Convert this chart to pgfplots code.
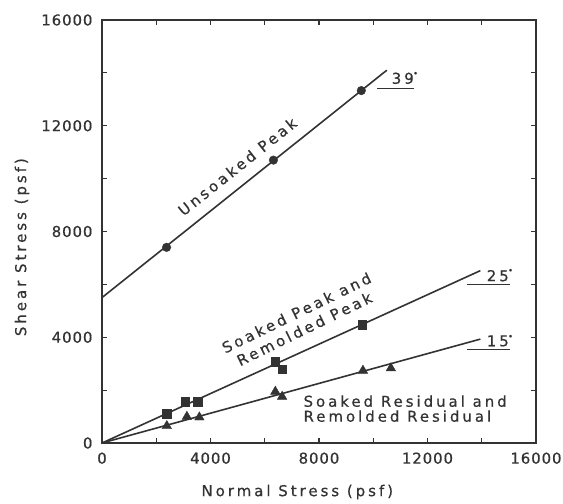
\documentclass[border=0pt]{standalone}
\usepackage{pgfplots}
\pgfplotsset{compat=1.18}
\usepackage{fontspec}
\setmainfont[LetterSpace=20, FakeBold=0.6]{DejaVu Sans}
\newfontfamily\tickfont[LetterSpace=6, FakeBold=0.6]{DejaVu Sans}
\newcommand\dg{\raisebox{0.55em}{\scalebox{0.5}{$\bullet$}}}
\definecolor{ink}{gray}{0.2}
\begin{document}
\begin{tikzpicture}
\useasboundingbox (-102bp,-61bp) rectangle (461bp,443bp);
\begin{axis}[
  at={(0,0)}, anchor=south west,
  scale only axis, width=434bp, height=423bp,
  xmin=0, xmax=16000, ymin=0, ymax=16000,
  scaled ticks=false,
  xtick={0,2000,...,16000},
  xticklabels={0,,4000,,8000,,12000,,16000},
  ytick={0,2000,...,16000},
  yticklabels={0,,4000,,8000,,12000,,16000},
  tick align=inside,
  major tick length=5bp,
  every tick/.style={line width=1.2bp, color=ink},
  axis line style={line width=1.8bp, color=ink},
  ticklabel style={font=\tickfont\fontsize{15}{15}\selectfont, text=ink},
  xticklabel style={yshift=-6bp},
  yticklabel style={xshift=-6bp},
  xlabel={Normal Stress (psf)},
  ylabel={Shear Stress (psf)},
  label style={font=\fontsize{15}{18}\selectfont, text=ink},
  xlabel style={at={([yshift=-49bp]rel axis cs:0.45,0)}, anchor=center},
  ylabel style={at={([xshift=-80bp]rel axis cs:0,0.463)}, anchor=center},
  clip=false,
]
% fitted envelopes
\addplot[line width=1.6bp, ink] coordinates {(0,5500) (10500,14100)};
\addplot[line width=1.6bp, ink] coordinates {(0,0) (13950,6520)};
\addplot[line width=1.6bp, ink] coordinates {(0,0) (13950,3930)};
% Unsoaked peak
\addplot[only marks, mark=*, mark size=4.3bp, ink] coordinates {
 (2380,7400) (6320,10700) (9560,13330)};
% Soaked peak and remolded peak
\addplot[only marks, mark=square*, mark size=4.3bp, ink] coordinates {
 (2390,1098) (3067,1564) (3520,1564) (6390,3080) (6640,2792) (9590,4470)};
% Soaked residual and remolded residual
\addplot[only marks, mark=triangle*, mark size=5.5bp, ink] coordinates {
 (2390,644) (3130,996) (3590,973) (6390,1943) (6640,1754) (9620,2739) (10650,2830)};
% annotations
\begin{scope}[every node/.style={font=\fontsize{15}{15}\selectfont, text=ink}]
\node[rotate=38.6] at (axis cs:4990,10455) {Unsoaked Peak};
\node[rotate=26, align=center, font=\fontsize{15}{18}\selectfont] at (axis cs:7314,4621) {Soaked Peak and\\Remolded Peak};
\node[anchor=west, align=left, inner sep=0pt] at (axis cs:7424,1300) {Soaked Residual and\\Remolded Residual};
\node at (axis cs:11155,13800) {39\dg};
\node at (axis cs:14657,6333) {25\dg};
\node at (axis cs:14657,3871) {15\dg};
\end{scope}
\draw[line width=1.2bp, ink] (axis cs:10155,13409) -- (axis cs:11520,13409);
\draw[line width=1.2bp, ink] (axis cs:13443,5985) -- (axis cs:15026,5985);
\draw[line width=1.2bp, ink] (axis cs:13443,3549) -- (axis cs:15026,3549);
\end{axis}
\end{tikzpicture}
\end{document}
